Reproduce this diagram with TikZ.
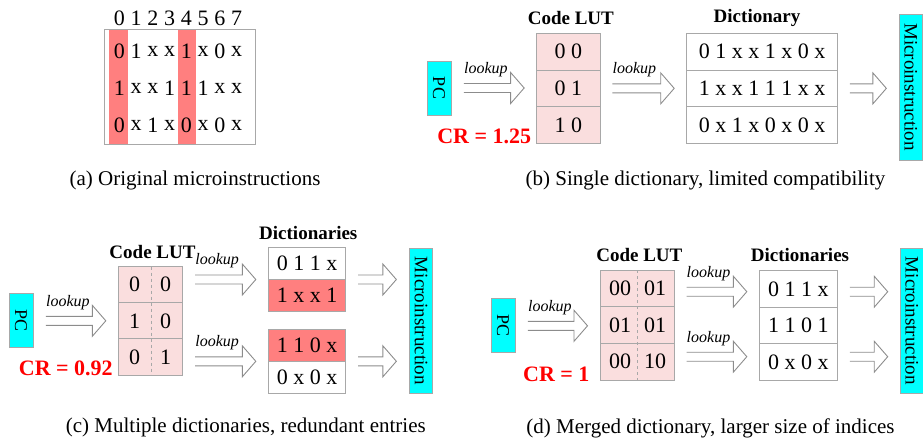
\documentclass[tikz,border=0pt]{standalone}
\usepackage{fontspec}
\setmainfont{Liberation Serif}
\usetikzlibrary{calc}

\definecolor{framegray}{RGB}{168,168,168}
\definecolor{arrowgray}{RGB}{140,140,140}
\definecolor{hlred}{RGB}{255,127,127}
\definecolor{lutpink}{RGB}{250,222,222}
\definecolor{pccyan}{RGB}{0,255,255}

\newcommand\cellfont{\fontsize{22}{26}\selectfont}
\newcommand\titlefont{\fontsize{19}{23}\selectfont\bfseries}
\newcommand\capfont{\fontsize{21}{25}\selectfont}

\begin{document}
\begin{tikzpicture}[x=1pt, y=-1pt,
    cell/.style={draw=framegray, line width=0.9pt, inner sep=0pt, outer sep=0pt,
      minimum height=#1, font=\cellfont},
    cell/.default=36.7,
    bit/.style={inner sep=0pt, font=\cellfont},
    pcbox/.style={draw=framegray, fill=pccyan, line width=0.9pt, inner sep=0pt,
      minimum width=24, minimum height=54, font=\fontsize{18}{20}\selectfont},
    microbox/.style={pcbox, minimum width=23, minimum height=145,
      font=\fontsize{19}{22}\selectfont},
    head/.style={font=\titlefont, inner sep=0pt},
    ratio/.style={font=\fontsize{22}{26}\selectfont\bfseries, text=red, inner sep=0pt},
    caption/.style={font=\capfont, inner sep=0pt},
    lookuplbl/.style={font=\fontsize{16}{19}\selectfont\itshape, inner sep=0pt},
    % fat open arrow, 12.5pt clear of both ends, label over the shaft
    hollow/.style={draw=arrowgray, line width=0.9pt, line join=miter,
      to path={let \p1=(\tikztostart), \p2=(\tikztotarget) in
        (\x1+34.5pt,\y1+18.5pt) node[lookuplbl] {#1}
        (\x1+12.5pt,\y1+4.5pt) -- (\x2-26pt,\y1+4.5pt) -- (\x2-26pt,\y1+15.5pt)
        -- (\x2-12.5pt,\y1) -- (\x2-26pt,\y1-15.5pt) -- (\x2-26pt,\y1-4.5pt)
        -- (\x1+12.5pt,\y1-4.5pt)}},
    hollow/.default={}
  ]
  \useasboundingbox (0,0) rectangle (923,442);

  % (a) raw words, bits 0 and 4 marked
  \fill[hlred] (109.3,29.3) rectangle (128.3,144);
  \fill[hlred] (177.7,29.3) rectangle (196,144);
  \draw[framegray, line width=0.9pt] (104.3,29.3) rectangle (255.7,144);
  \foreach \i in {0,...,7}
    \node[bit] (h\i) at ({119.3+16.75*\i},18) {\i};
  \foreach \word [count=\r] in {{0,1,x,x,1,x,0,x},{1,x,x,1,1,1,x,x},{0,x,1,x,0,x,0,x}}
    \foreach \bitv [count=\i from 0] in \word
      \node[bit] (w\r-\i) at ({119.3+16.75*\i},{15+36.65*\r}) {\bitv};
  \node[caption] (capa) at (195,180) {(a) Original microinstructions};

  % (b) one dictionary
  \node[pcbox] (pcb) at (439,88) {\rotatebox{-90}{PC}};
  \foreach \e [count=\k] in {0 0,0 1,1 0}
    \node[cell, fill=lutpink, minimum width=63.3] (lutb\k) at (568.3,{14.95+36.7*\k}) {\e};
  \foreach \e [count=\k] in {0 1 x x 1 x 0 x,1 x x 1 1 1 x x,0 x 1 x 0 x 0 x}
    \node[cell, fill=white, minimum width=150.6] (dictb\k) at (762,{14.95+36.7*\k}) {\e};
  \node[microbox, minimum height=146] (micb) at (910.8,87) {\rotatebox{-90}{Microinstruction}};
  \node[head] (lutbt) at (570.8,18.3) {Code LUT};
  \node[head] (dictbt) at (757,18.3) {Dictionary};
  \node[ratio] (crb) at (484.2,136.7) {CR = 1.25};
  \draw[hollow=lookup] (pcb.east) to (lutb2.west);
  \draw[hollow=lookup] (lutb2.east) to (dictb2.west);
  \draw[hollow] (dictb2.east) to (micb.west);
  \node[caption] (capb) at (705.5,180) {(b) Single dictionary, limited compatibility};

  % (c) two dictionaries, shared entries repeated
  \node[pcbox] (pcc) at (21,320.8) {\rotatebox{-90}{PC}};
  \foreach \lft/\rgt [count=\k] in {0/0,1/0,0/1} {
    \node[cell=36.1, fill=lutpink, minimum width=64.4] (lutc\k) at (150.5,{248.65+36.1*\k}) {};
    \node[bit] (lutc\k-a) at ($(lutc\k.center)+(-16,0)$) {\lft};
    \node[bit] (lutc\k-b) at ($(lutc\k.center)+(15,0)$) {\rgt};
  }
  \draw[framegray, dashed, line width=0.9pt] ($(lutc1.north)+(1,0)$) -- ($(lutc3.south)+(1,0)$);
  \node[cell=32.2, minimum width=77.4] (dca1) at (307,263.4) {0 1 1 x};
  \node[cell=32.2, minimum width=77.4, fill=hlred] (dca2) at (307,295.6) {1 x x 1};
  \node[cell=32, minimum width=77.4, fill=hlred] (dcb1) at (307,345.3) {1 1 0 x};
  \node[cell=32, minimum width=77.4] (dcb2) at (307,377.3) {0 x 0 x};
  \node[microbox, minimum width=23.4] (micc) at (421,320.8) {\rotatebox{-90}{Microinstruction}};
  \node[head] (lutct) at (152.5,251.7) {Code LUT};
  \node[head] (dictct) at (308.3,232.7) {Dictionaries};
  \node[ratio] (crc) at (65.8,368.3) {CR = 0.92};
  \draw[hollow=lookup] (pcc.east) to (lutc2.west);
  \draw[hollow=lookup] (lutc1.east |- dca1.south) to (dca1.south west);
  \draw[hollow=lookup] (lutc3.east |- dcb1.south) to (dcb1.south west);
  \draw[hollow] (dca1.south east) to (micc.west);
  \draw[hollow] (dcb1.south east) to (micc.west);
  \node[caption] (capc) at (245.8,427) {(c) Multiple dictionaries, redundant entries};

  % (d) merged dictionary, wider indices
  \node[pcbox] (pcd) at (503,325.8) {\rotatebox{-90}{PC}};
  \foreach \lft/\rgt [count=\k] in {00/01,01/01,00/10} {
    \node[cell, fill=lutpink, minimum width=74] (lutd\k) at (637,{251.65+36.7*\k}) {};
    \node[bit] (lutd\k-a) at ($(lutd\k.center)+(-17,0)$) {\lft};
    \node[bit] (lutd\k-b) at ($(lutd\k.center)+(18,0)$) {\rgt};
  }
  \draw[framegray, dashed, line width=0.9pt] (lutd1.north) -- (lutd3.south);
  \foreach \e [count=\k] in {0 1 1 x,1 1 0 1,0 x 0 x}
    \node[cell=36.45, fill=white, minimum width=78] (dictd\k) at (798.3,{252.5+36.45*\k}) {\e};
  \node[microbox, minimum width=22.3] (micd) at (911.8,320.8) {\rotatebox{-90}{Microinstruction}};
  \node[head] (lutdt) at (639.3,255) {Code LUT};
  \node[head] (dictdt) at (800,255) {Dictionaries};
  \node[ratio] (crd) at (556.3,374) {CR = 1};
  \coordinate (dup) at (0,291.7);
  \coordinate (ddown) at (0,356.7);
  \draw[hollow=lookup] (pcd.east) to (lutd2.west);
  \draw[hollow=lookup] (lutd1.east |- dup) to (dictd1.west);
  \draw[hollow=lookup] (lutd3.east |- ddown) to (dictd3.west);
  \draw[hollow] (dictd1.east |- dup) to (micd.west);
  \draw[hollow] (dictd3.east |- ddown) to (micd.west);
  \node[caption] (capd) at (710.5,428) {(d) Merged dictionary, larger size of indices};
\end{tikzpicture}
\end{document}
